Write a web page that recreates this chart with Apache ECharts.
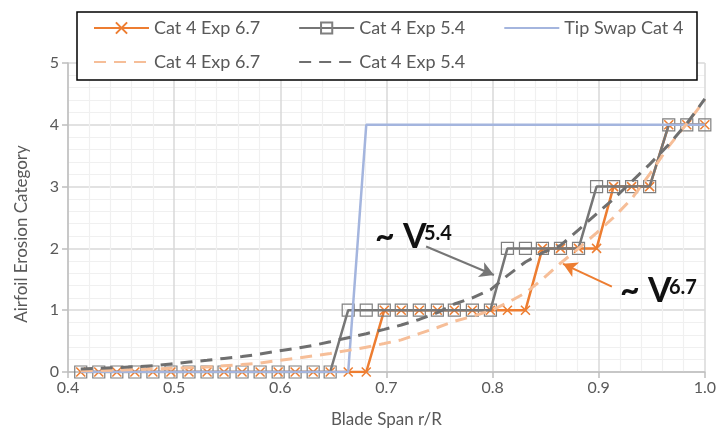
<!DOCTYPE html>
<html>
<head>
<meta charset="utf-8">
<script src="https://cdn.jsdelivr.net/npm/echarts@6/dist/echarts.min.js"></script>
<style>
html,body{margin:0;padding:0;background:#fff;}
#chart{width:719px;height:441px;}
</style>
</head>
<body>
<div id="chart"></div>
<script>
// Blade span stations (r/R)
const spanX = [0.412,0.429,0.446,0.463,0.480,0.497,0.514,0.531,0.547,0.564,0.581,0.598,
  0.614,0.631,0.647,0.664,0.681,0.698,0.714,0.731,0.748,0.764,0.781,0.798,
  0.814,0.831,0.847,0.864,0.881,0.898,0.914,0.931,0.948,0.966,0.983,1.000];
// Cat 4 Exp 6.7 (orange, x markers)
const cat67 = [0,0,0,0,0,0,0,0,0,0,0,0,0,0,0,0,0,
  1,1,1,1,1,1,1,1,1,
  2,2,2,2,
  3,3,3,
  4,4,4];
// Cat 4 Exp 5.4 (grey, square markers)
const cat54 = [0,0,0,0,0,0,0,0,0,0,0,0,0,0,0,
  1,1,1,1,1,1,1,1,1,
  2,2,2,2,2,
  3,3,3,3,
  4,4,4];
// Tip Swap Cat 4
const tipSwap = [0,0,0,0,0,0,0,0,0,0,0,0,0,0,0,0,
  4,4,4,4,4,4,4,4,4,4,4,4,4,4,4,4,4,4,4,4];
// Trend curves
const fit67 = [0.02,0.025,0.03,0.04,0.05,0.06,0.07,0.08,0.10,0.12,0.145,0.185,
  0.22,0.26,0.30,0.35,0.40,0.46,0.52,0.62,0.72,0.82,0.90,0.99,
  1.12,1.28,1.50,1.76,2.00,2.25,2.50,2.80,3.20,3.65,4.02,4.40];
const fit54 = [0.05,0.06,0.07,0.085,0.10,0.13,0.16,0.19,0.22,0.25,0.29,0.34,
  0.38,0.43,0.49,0.555,0.62,0.69,0.76,0.85,0.96,1.10,1.20,1.33,
  1.56,1.78,1.93,2.05,2.30,2.56,2.80,3.08,3.36,3.68,4.02,4.42];
const xTicks = [0.4,0.5,0.6,0.7,0.8,0.9,1.0];
const yTicks = [0,1,2,3,4,5];

const pairs = (ys) => spanX.map((x, i) => [x, ys[i]]);
const FONT = 'Lato, "Open Sans", sans-serif';
const TXT = '#595959';
const legendCommon = {
  left: 93, padding: 0, z: 20,
  itemWidth: 55, itemHeight: 14, itemGap: 38,
  textStyle: {color: TXT, fontSize: 18, fontFamily: FONT},
  formatter: (n) => n.trim()
};
const hideSym = {opacity: 0};

const chart = echarts.init(document.getElementById('chart'), null, {renderer: 'canvas'});
chart.setOption({
  animation: false,
  backgroundColor: '#ffffff',
  textStyle: {fontFamily: FONT},
  grid: {left: 68, right: 11, top: 63, bottom: 69, containLabel: false},
  legend: [
    Object.assign({}, legendCommon, {top: 19,
      data: ['Cat 4 Exp 6.7', 'Cat 4 Exp 5.4', {name: 'Tip Swap Cat 4', itemStyle: hideSym}]}),
    Object.assign({}, legendCommon, {top: 53,
      data: [{name: 'Cat 4 Exp 6.7 ', itemStyle: hideSym}, {name: 'Cat 4 Exp 5.4 ', itemStyle: hideSym}]})
  ],
  xAxis: {
    type: 'value', min: 0.4, max: 1.0, interval: 0.1,
    name: 'Blade Span r/R', nameLocation: 'middle', nameGap: 39,
    nameTextStyle: {color: TXT, fontSize: 17, fontFamily: FONT},
    axisLine: {show: true, lineStyle: {color: '#bfbfbf', width: 1.5}},
    axisTick: {show: true, length: 6, lineStyle: {color: '#bfbfbf', width: 1.5}},
    minorTick: {show: false, splitNumber: 5},
    axisLabel: {color: TXT, fontSize: 16, margin: 8, fontFamily: FONT,
      formatter: (v) => { const t = xTicks.find(k => Math.abs(k - v) < 1e-6); return t !== undefined ? t.toFixed(1) : ''; }},
    splitLine: {show: true, lineStyle: {color: '#d9d9d9', width: 1.5}},
    minorSplitLine: {show: true, lineStyle: {color: '#f0f0f0', width: 1.2}}
  },
  yAxis: {
    type: 'value', min: 0, max: 5, interval: 1,
    axisLine: {show: true, lineStyle: {color: '#bfbfbf', width: 1.5}},
    axisTick: {show: true, length: 6, lineStyle: {color: '#bfbfbf', width: 1.5}},
    minorTick: {show: false, splitNumber: 5},
    axisLabel: {color: TXT, fontSize: 16, margin: 9, fontFamily: FONT,
      formatter: (v) => { const t = yTicks.find(k => Math.abs(k - v) < 1e-6); return t !== undefined ? String(t) : ''; }},
    splitLine: {show: true, lineStyle: {color: '#d9d9d9', width: 1.5}},
    minorSplitLine: {show: true, lineStyle: {color: '#f0f0f0', width: 1.2}}
  },
  graphic: [
    {type: 'rect', z: 15, shape: {x: 77, y: 12, width: 620, height: 68},
      style: {fill: '#ffffff', stroke: '#000000', lineWidth: 1.5}},
    {type: 'text', x: 22, y: 234, rotation: Math.PI / 2,
      style: {text: 'Airfoil Erosion Category', fill: TXT, fontSize: 17, fontFamily: FONT,
        align: 'center', verticalAlign: 'middle'}},
    {type: 'text', x: 375, y: 254, z: 100, style: {text: '~ V', fill: '#111', fontSize: 34, fontWeight: 'bold', fontFamily: FONT, align: 'left', verticalAlign: 'bottom'}},
    {type: 'text', x: 424, y: 244, z: 100, style: {text: '5.4', fill: '#111', fontSize: 20, fontWeight: 'bold', fontFamily: FONT, align: 'left', verticalAlign: 'bottom'}},
    {type: 'text', x: 620, y: 308, z: 100, style: {text: '~ V', fill: '#111', fontSize: 34, fontWeight: 'bold', fontFamily: FONT, align: 'left', verticalAlign: 'bottom'}},
    {type: 'text', x: 669, y: 298, z: 100, style: {text: '6.7', fill: '#111', fontSize: 20, fontWeight: 'bold', fontFamily: FONT, align: 'left', verticalAlign: 'bottom'}}
  ],
  series: [
    {
      name: 'Cat 4 Exp 6.7', type: 'line', data: pairs(cat67),
      symbol: 'path://M0,0L10,10M10,0L0,10', symbolSize: 9,
      itemStyle: {color: 'rgba(0,0,0,0)', borderColor: '#ED7D31', borderWidth: 1.5},
      lineStyle: {color: '#ED7D31', width: 2.5}, color: '#ED7D31', z: 3,
      markLine: {
        silent: true, symbol: ['none', 'arrow'], symbolSize: [12, 14],
        label: {show: false},
        lineStyle: {color: '#ED7D31', width: 2, type: 'solid'},
        data: [[{coord: [0.9124, 1.38]}, {coord: [0.8664, 1.75]}]]
      }
    },
    {
      name: 'Cat 4 Exp 5.4', type: 'line', data: pairs(cat54),
      symbol: 'rect', symbolSize: 12,
      itemStyle: {color: 'rgba(255,255,255,0)', borderColor: '#7f7f7f', borderWidth: 1.2},
      lineStyle: {color: '#767676', width: 2.5}, color: '#767676', z: 4,
      markLine: {
        silent: true, symbol: ['none', 'arrow'], symbolSize: [12, 14],
        label: {show: false},
        lineStyle: {color: '#767676', width: 2, type: 'solid'},
        data: [[{coord: [0.7374, 2.03]}, {coord: [0.8013, 1.57]}]]
      }
    },
    {
      name: 'Tip Swap Cat 4', type: 'line', data: pairs(tipSwap),
      symbol: 'none', lineStyle: {color: '#A4B5DE', width: 2.5}, color: '#A4B5DE', z: 5
    },
    {
      name: 'Cat 4 Exp 6.7 ', type: 'line', data: pairs(fit67),
      symbol: 'none', lineStyle: {color: '#F6BE98', width: 3, type: [12, 8]}, color: '#F6BE98', z: 6
    },
    {
      name: 'Cat 4 Exp 5.4 ', type: 'line', data: pairs(fit54),
      symbol: 'none', lineStyle: {color: '#6f6f6f', width: 3, type: [12, 8]}, color: '#6f6f6f', z: 7
    }
  ]
});
</script>
</body>
</html>
